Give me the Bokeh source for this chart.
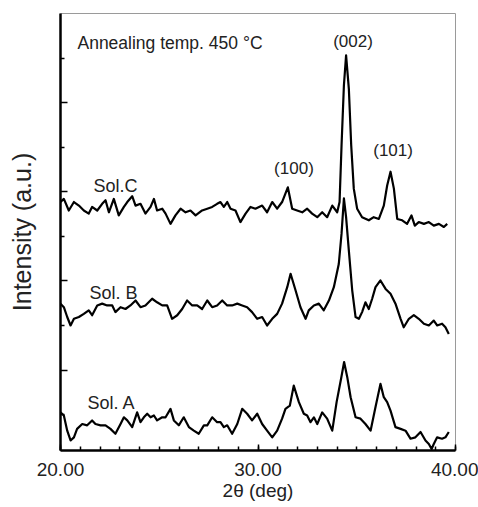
from bokeh.plotting import figure
from bokeh.models import Range1d, FixedTicker, Label, PrintfTickFormatter
from bokeh.embed import file_html
from bokeh.resources import INLINE

# ---- data (2theta in degrees, intensity in arbitrary units, curves offset) ----
sol_c_x = [20.00, 20.17, 20.42, 20.68, 20.93, 21.18, 21.43, 21.60, 21.86, 22.11, 22.28, 22.45,
           22.70, 22.95, 23.21, 23.38, 23.63, 23.80, 24.05, 24.30, 24.56, 24.73, 24.89, 25.15,
           25.32, 25.57, 25.82, 26.08, 26.33, 26.58, 26.84, 27.17, 27.43, 27.68, 27.93, 28.10,
           28.27, 28.44, 28.61, 28.86, 29.11, 29.37, 29.62, 29.87, 30.21, 30.46, 30.72, 30.97,
           31.22, 31.51, 31.73, 31.98, 32.24, 32.49, 32.74, 33.00, 33.25, 33.50, 33.76, 34.01,
           34.13, 34.23, 34.35, 34.46, 34.60, 34.72, 34.85, 35.02, 35.27, 35.61, 35.86, 36.12,
           36.37, 36.54, 36.71, 36.88, 37.05, 37.30, 37.55, 37.77, 37.94, 38.14, 38.40, 38.65,
           38.90, 39.16, 39.41, 39.58]
sol_c_y = [5.77, 5.84, 5.58, 5.77, 5.69, 5.58, 5.51, 5.66, 5.58, 5.73, 5.81, 5.54,
           5.84, 5.47, 5.66, 5.77, 5.90, 5.69, 5.73, 5.51, 5.66, 5.84, 5.58, 5.62,
           5.51, 5.28, 5.47, 5.62, 5.54, 5.58, 5.47, 5.58, 5.62, 5.66, 5.73, 5.77,
           5.66, 5.77, 5.62, 5.58, 5.32, 5.51, 5.66, 5.62, 5.69, 5.54, 5.77, 5.62,
           5.77, 6.10, 5.62, 5.58, 5.54, 5.62, 5.51, 5.43, 5.54, 5.43, 5.69, 5.54,
           5.77, 7.04, 8.39, 9.06, 8.31, 7.04, 6.07, 5.62, 5.43, 5.36, 5.43, 5.39,
           5.69, 6.14, 6.45, 6.07, 5.39, 5.36, 5.28, 5.47, 5.24, 5.32, 5.28, 5.32,
           5.24, 5.28, 5.21, 5.28]

sol_b_x = [20.00, 20.17, 20.34, 20.51, 20.68, 20.93, 21.18, 21.43, 21.60, 21.86, 22.11, 22.36,
           22.62, 22.78, 23.04, 23.29, 23.54, 23.80, 24.05, 24.30, 24.64, 24.89, 25.15, 25.40,
           25.65, 25.91, 26.16, 26.41, 26.67, 26.92, 27.17, 27.43, 27.68, 27.93, 28.19, 28.44,
           28.69, 28.95, 29.20, 29.45, 29.70, 29.96, 30.21, 30.46, 30.72, 30.97, 31.22, 31.48,
           31.65, 31.90, 32.15, 32.41, 32.57, 32.83, 33.08, 33.33, 33.59, 33.84, 34.09, 34.23,
           34.35, 34.46, 34.60, 34.77, 34.94, 35.11, 35.27, 35.44, 35.61, 35.78, 35.95, 36.20,
           36.46, 36.71, 36.96, 37.22, 37.38, 37.64, 37.89, 38.14, 38.40, 38.65, 38.90, 39.07,
           39.32, 39.49, 39.66]
sol_b_y = [3.49, 3.41, 3.19, 3.00, 3.15, 3.19, 3.26, 3.34, 3.23, 3.45, 3.49, 3.45,
           3.45, 3.30, 3.41, 3.37, 3.45, 3.56, 3.41, 3.45, 3.60, 3.52, 3.45, 3.45,
           3.15, 3.23, 3.37, 3.56, 3.45, 3.45, 3.37, 3.56, 3.41, 3.45, 3.56, 3.45,
           3.45, 3.49, 3.45, 3.41, 3.30, 3.15, 3.19, 3.00, 3.15, 3.26, 3.49, 3.86,
           4.16, 3.79, 3.41, 3.15, 3.34, 3.45, 3.49, 3.34, 3.56, 3.86, 4.38, 5.06,
           5.85, 5.43, 4.68, 3.79, 3.19, 3.15, 3.30, 3.52, 3.37, 3.60, 3.86, 4.01,
           3.82, 3.71, 3.49, 3.15, 2.96, 3.15, 3.23, 3.15, 3.04, 3.00, 3.11, 3.00,
           3.04, 2.96, 2.81]

sol_a_x = [20.00, 20.17, 20.34, 20.51, 20.68, 20.84, 21.10, 21.35, 21.60, 21.77, 22.03, 22.28,
           22.53, 22.78, 23.04, 23.21, 23.38, 23.63, 23.88, 24.05, 24.22, 24.39, 24.56, 24.73,
           24.89, 25.15, 25.32, 25.57, 25.74, 25.99, 26.24, 26.50, 26.75, 27.00, 27.26, 27.43,
           27.68, 27.93, 28.10, 28.27, 28.44, 28.69, 28.95, 29.20, 29.45, 29.70, 29.96, 30.21,
           30.46, 30.72, 30.97, 31.22, 31.39, 31.61, 31.81, 32.07, 32.32, 32.49, 32.66, 32.83,
           33.00, 33.25, 33.50, 33.76, 33.98, 34.22, 34.36, 34.52, 34.69, 34.94, 35.19, 35.44,
           35.70, 35.95, 36.20, 36.37, 36.54, 36.71, 36.96, 37.22, 37.47, 37.72, 37.97, 38.23,
           38.48, 38.65, 38.79, 38.90, 39.07, 39.32, 39.49, 39.66]
sol_a_y = [1.05, 0.98, 0.64, 0.42, 0.49, 0.68, 0.79, 0.76, 0.87, 0.79, 0.76, 0.76,
           0.68, 0.57, 0.79, 0.94, 0.87, 0.72, 1.05, 0.83, 0.94, 1.02, 0.94, 0.98,
           0.87, 0.94, 0.94, 1.13, 0.87, 0.76, 0.94, 0.72, 0.64, 0.57, 0.76, 0.76,
           0.94, 0.83, 0.83, 0.72, 0.76, 0.57, 0.79, 1.13, 1.02, 0.87, 1.02, 0.79,
           0.64, 0.49, 0.64, 0.91, 1.13, 1.20, 1.65, 1.28, 1.02, 0.98, 0.83, 0.94,
           0.79, 1.05, 0.91, 0.64, 1.28, 1.84, 2.18, 1.84, 1.39, 0.94, 0.91, 0.79,
           0.64, 1.17, 1.69, 1.39, 1.28, 1.09, 0.72, 0.68, 0.64, 0.46, 0.49, 0.61,
           0.42, 0.34, 0.23, 0.34, 0.49, 0.46, 0.49, 0.61]

x_ticks = [20, 30, 40]
x_minor = list(range(20, 41))
y_major = [2, 4, 6, 8]
y_minor = [1, 3, 5, 7, 9]

FONT = "Liberation Sans"

p = figure(width=478, height=507, output_backend="svg", toolbar_location=None,
           x_range=Range1d(20, 40), y_range=Range1d(0.195, 10),
           min_border_left=60, min_border_right=23, min_border_top=13, min_border_bottom=57,
           background_fill_color="white", border_fill_color="white")

p.xgrid.visible = False
p.ygrid.visible = False
p.outline_line_color = "#9a9a9a"
p.outline_line_width = 1

for series_x, series_y in ((sol_a_x, sol_a_y), (sol_b_x, sol_b_y), (sol_c_x, sol_c_y)):
    p.line(series_x, series_y, line_color="black", line_width=2.2, line_join="round")

# x axis
xa = p.xaxis[0]
xa.ticker = FixedTicker(ticks=x_ticks, minor_ticks=x_minor)
xa.formatter = PrintfTickFormatter(format="%.2f")
xa.axis_line_width = 2.5
xa.axis_line_color = "black"
xa.major_tick_in = 6
xa.major_tick_out = 0
xa.minor_tick_in = 4
xa.minor_tick_out = 0
xa.major_tick_line_width = 1.5
xa.minor_tick_line_width = 1.5
xa.major_tick_line_color = "black"
xa.minor_tick_line_color = "black"
xa.major_label_text_font = FONT
xa.major_label_text_font_size = "19px"
xa.major_label_text_color = "#222222"
xa.major_label_standoff = 12
xa.axis_label = "2θ (deg)"
xa.axis_label_text_font = FONT
xa.axis_label_text_font_style = "normal"
xa.axis_label_text_font_size = "19px"
xa.axis_label_text_color = "#222222"
xa.axis_label_standoff = 1

# y axis
ya = p.yaxis[0]
ya.ticker = FixedTicker(ticks=y_major, minor_ticks=y_minor)
ya.major_label_overrides = {t: "" for t in y_major}
ya.axis_line_width = 2.5
ya.axis_line_color = "black"
ya.major_tick_in = 7
ya.major_tick_out = 0
ya.minor_tick_in = 4
ya.minor_tick_out = 0
ya.major_tick_line_width = 1.5
ya.minor_tick_line_width = 1.5
ya.major_tick_line_color = "black"
ya.minor_tick_line_color = "black"
ya.major_label_standoff = 0
ya.axis_label = "Intensity (a.u.)"
ya.axis_label_text_font = FONT
ya.axis_label_text_font_style = "normal"
ya.axis_label_text_font_size = "25px"
ya.axis_label_text_color = "#222222"
ya.axis_label_standoff = 25

def add_label(x, y, text, size="17px", align="left", baseline="alphabetic"):
    p.add_layout(Label(x=x, y=y, text=text, text_font=FONT, text_font_size=size,
                       text_align=align, text_baseline=baseline, text_color="#222222"))

add_label(20.86, 9.34, "Annealing temp. 450 °C", size="17.5px")
add_label(34.81, 9.37, "(002)", size="17px", align="center", baseline="middle")
add_label(31.82, 6.53, "(100)", size="17px", align="center", baseline="middle")
add_label(36.84, 6.92, "(101)", size="17px", align="center", baseline="middle")
add_label(21.67, 6.13, "Sol.C", size="18px")
add_label(21.47, 3.74, "Sol. B", size="18px")
add_label(21.37, 1.26, "Sol. A", size="18px")

open("out.html", "w").write(file_html(p, INLINE))
